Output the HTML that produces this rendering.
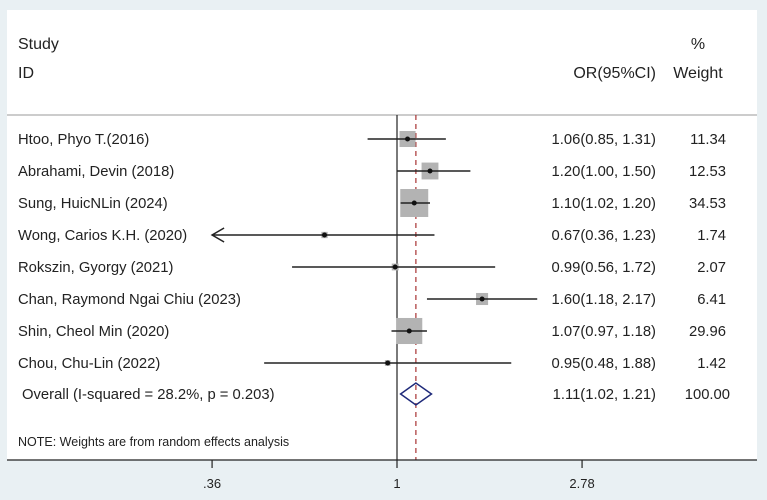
<!DOCTYPE html>
<html><head><meta charset="utf-8"><style>
body{margin:0;width:767px;height:500px;background:#e9f0f3;overflow:hidden}
svg{display:block}
text{font-family:"Liberation Sans",sans-serif;font-size:14.8px;fill:#222}
</style></head><body>
<svg width="767" height="500">
<rect x="7" y="10" width="750" height="450" fill="#fff"/>
<line x1="7" y1="115" x2="757" y2="115" stroke="#ccc" stroke-width="2"/>
<text x="18" y="49" style="font-size:16px">Study</text>
<text x="18" y="78" style="font-size:16px">ID</text>
<text x="656" y="78" text-anchor="end" style="font-size:16px">OR(95%CI)</text>
<text x="698" y="49" text-anchor="middle" style="font-size:16px">%</text>
<text x="698" y="78" text-anchor="middle" style="font-size:16px">Weight</text>
<g id="marks"></g>
<text x="18" y="446" style="font-size:12.5px">NOTE: Weights are from random effects analysis</text>
<line x1="7" y1="460" x2="757" y2="460" stroke="#222" stroke-width="1.2"/>
<g id="ticks"></g>
</svg>
<script>
const studies=["Htoo, Phyo T.(2016)","Abrahami, Devin (2018)","Sung, HuicNLin (2024)","Wong, Carios K.H. (2020)","Rokszin, Gyorgy (2021)","Chan, Raymond Ngai Chiu (2023)","Shin, Cheol Min (2020)","Chou, Chu-Lin (2022)"];
const orVals=[1.06,1.20,1.10,0.67,0.99,1.60,1.07,0.95];
const lowerCI=[0.85,1.00,1.02,0.36,0.56,1.18,0.97,0.48];
const upperCI=[1.31,1.50,1.20,1.23,1.72,2.17,1.18,1.88];
const weights=[11.34,12.53,34.53,1.74,2.07,6.41,29.96,1.42];
const overall=[1.11,1.02,1.21];
const tickVals=[0.36,1,2.78];
const tickLabels=[".36","1","2.78"];
const NS="http://www.w3.org/2000/svg";
const x=v=>397+181*Math.log(v);
const rowY=i=>139+i*32;
const g=document.getElementById('marks');
function mk(tag,a,parent){const e=document.createElementNS(NS,tag);for(const k in a)e.setAttribute(k,a[k]);(parent||g).appendChild(e);return e;}
const f=v=>v.toFixed(2);
let l=mk('line',{x1:x(1),y1:115,x2:x(1),y2:460,stroke:'#222','stroke-width':1.2});


l=mk('line',{x1:x(overall[0]),y1:115,x2:x(overall[0]),y2:460,stroke:'#a83232','stroke-width':1.2,'stroke-dasharray':'5,4'});


studies.forEach((s,i)=>{
 const y=rowY(i);
 let t=mk('text',{x:18,y:y+5});t.textContent=s;
 
 
 const side=4.76*Math.sqrt(weights[i]);
 let r=mk('rect',{x:x(orVals[i])-side/2,y:y-side/2,width:side,height:side,fill:'#b3b3b3'});
 
 
 let lo=Math.max(lowerCI[i],0.36);
 let c=mk('line',{x1:x(lo),y1:y,x2:x(upperCI[i]),y2:y,stroke:'#222','stroke-width':1.5});
 
 
 if(lowerCI[i]<=0.36){
  let a=mk('path',{d:`M${x(lo)+12},${y-7} L${x(lo)},${y} L${x(lo)+12},${y+7}`,fill:'none',stroke:'#222','stroke-width':1.5});
  
  
 }
 let p=mk('circle',{cx:x(orVals[i]),cy:y,r:2.5,fill:'#111'});
 
 
 t=mk('text',{x:656,y:y+5,'text-anchor':'end'});t.textContent=f(orVals[i])+"("+f(lowerCI[i])+", "+f(upperCI[i])+")";
 
 
 t=mk('text',{x:726,y:y+5,'text-anchor':'end'});t.textContent=f(weights[i]);
 
 
});
const oy=rowY(8)-1;
let t=mk('text',{x:22,y:oy+5});t.textContent="Overall (I-squared = 28.2%, p = 0.203)";


let d=mk('path',{d:`M${x(overall[1])},${oy} L${x(overall[0])},${oy-11} L${x(overall[2])},${oy} L${x(overall[0])},${oy+11} Z`,fill:'none',stroke:'#1f2a7a','stroke-width':1.5});


t=mk('text',{x:656,y:oy+5,'text-anchor':'end'});t.textContent=f(overall[0])+"("+f(overall[1])+", "+f(overall[2])+")";


t=mk('text',{x:730,y:oy+5,'text-anchor':'end'});t.textContent="100.00";


const tg=document.getElementById('ticks');
tickVals.forEach((v,i)=>{
 let k=mk('line',{x1:x(v),y1:460,x2:x(v),y2:468,stroke:'#222','stroke-width':1.2},tg);
 
 
 let tl=mk('text',{x:x(v),y:488,'text-anchor':'middle',style:'font-size:13px'},tg);tl.textContent=tickLabels[i];
 
 
});
</script>
</body></html>
